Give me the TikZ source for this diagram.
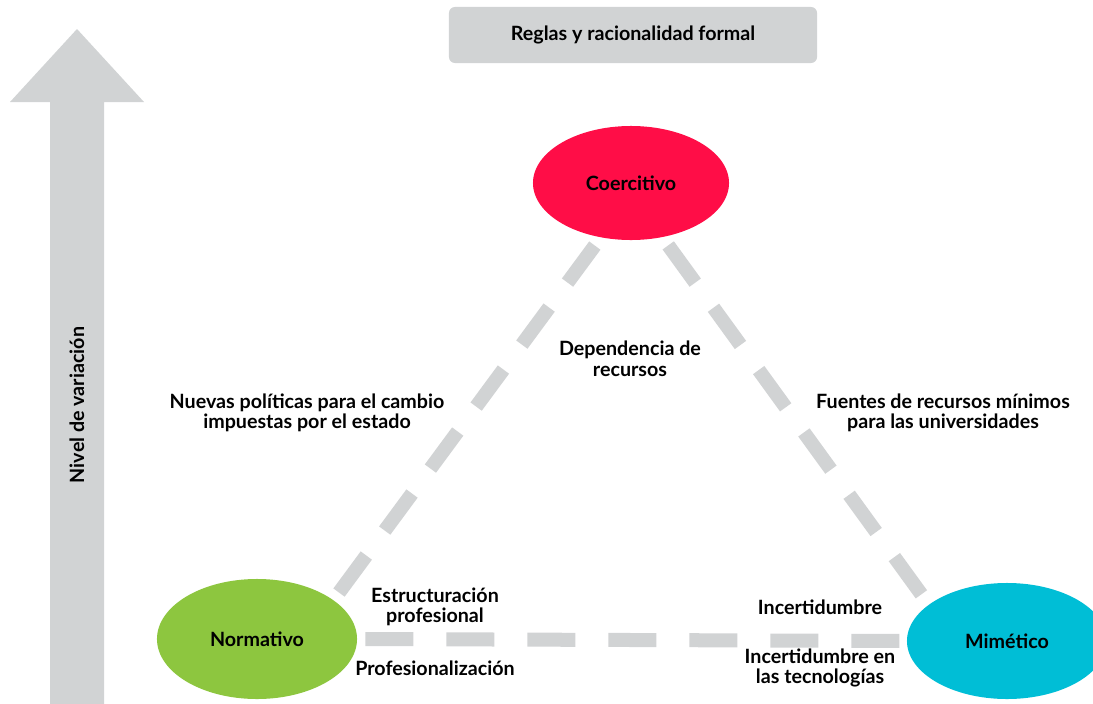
\documentclass[tikz,border=0pt]{standalone}
\usepackage{fontspec}
\setmainfont{Lato}
\usepackage{xcolor}
\usetikzlibrary{shapes.geometric}
\definecolor{cloud}{HTML}{D1D3D4}
\definecolor{crimson}{HTML}{FF0D47}
\definecolor{leaf}{HTML}{8DC63F}
\definecolor{lagoon}{HTML}{00BED6}

\begin{document}
\begin{tikzpicture}[
  x=0.025cm, y=-0.025cm,
  font=\fontsize{14}{14.6}\selectfont\bfseries,
  oval/.style={ellipse, inner sep=0pt, minimum width=5cm, minimum height=3cm, align=center},
  label/.style={align=center, inner sep=1pt},
  link/.style={draw=cloud, line width=0.35cm, dash pattern=on 1.15cm off 0.775cm}
]
  \useasboundingbox (0,0) rectangle (1093,704);

  % vertical arrow
  \fill[cloud] (50,704) -- (50,102) -- (10,102) -- (77,29) -- (144,102) -- (104,102) -- (104,704) -- cycle;
  \node[label, rotate=90] (nivel) at (77,405) {Nivel de variación};

  \node[fill=cloud, rounded corners=1.5mm, minimum width=9.2cm, minimum height=1.4cm] (reglas) at (633,35) {Reglas y racionalidad formal};

  \node[oval, fill=crimson, minimum width=4.9cm, minimum height=2.85cm] (coer) at (631,183) {Coercitivo};
  \node[oval, fill=leaf] (norm) at (257,639) {Normativo};
  \node[oval, fill=lagoon, minimum height=2.9cm] (mim) at (1007,641) {Mimético};

  \draw[link, shorten <=0.25cm, shorten >=0.2cm] (coer.241) -- (norm.27);
  \draw[link, shorten <=0.25cm, shorten >=0.3cm] (coer.300) -- (mim.155);
  \draw[link, dash pattern=on 1.2cm off 0.825cm, shorten <=0.2cm, shorten >=0.175cm] (norm.east) -- (mim.west);

  \node[label] (dep) at (630,359) {Dependencia de\\recursos};
  \node[label] (nuevas) at (307,413) {Nuevas políticas para el cambio\\impuestas por el estado};
  \node[label] (fuentes) at (943,413) {Fuentes de recursos mínimos\\para las universidades};
  \node[label] (estruct) at (435,607) {Estructuración\\profesional};
  \node[label] (profes) at (435,668) {Profesionalización};
  \node[label] (incert) at (820,607) {Incertidumbre};
  \node[label] (tecno) at (820,668) {Incertidumbre en\\las tecnologías};
\end{tikzpicture}
\end{document}
